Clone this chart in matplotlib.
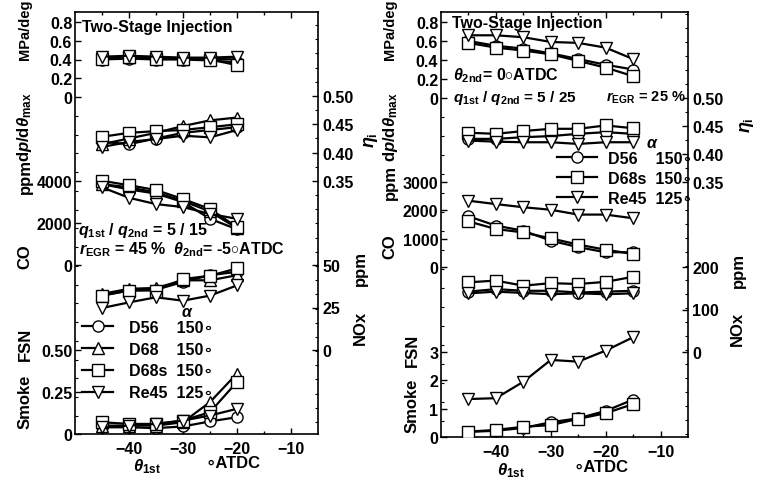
import matplotlib.pyplot as plt
from matplotlib.ticker import MultipleLocator
from matplotlib.lines import Line2D

plt.rcParams['font.family'] = ['Liberation Sans', 'DejaVu Sans']
plt.rcParams['font.weight'] = 'bold'
plt.rcParams['font.size'] = 11.5
plt.rcParams['mathtext.fontset'] = 'custom'
plt.rcParams['mathtext.rm'] = 'Liberation Sans:bold'
plt.rcParams['mathtext.it'] = 'Liberation Sans:italic:bold'
plt.rcParams['mathtext.bf'] = 'Liberation Sans:bold'

W, H = 758, 481
DEG = '\u2218'

markers = {'D56': 'o', 'D68': '^', 'D68s': 's', 'Re45': 'v'}
alpha_deg = {'D56': '150', 'D68': '150', 'D68s': '150', 'Re45': '125'}

# left panel: q1st/q2nd = 5/15, rEGR = 45 %, theta_2nd = -5 ATDC
theta_L = [-45, -40, -35, -30, -25, -20]
dp_L = {'D56': [0.40, 0.41, 0.40, 0.40, 0.39, 0.37],
        'D68': [0.42, 0.43, 0.42, 0.41, 0.41, 0.40],
        'D68s': [0.41, 0.43, 0.41, 0.41, 0.40, 0.34],
        'Re45': [0.43, 0.44, 0.43, 0.42, 0.42, 0.43]}
eta_L = {'D56': [0.419, 0.415, 0.425, 0.435, 0.440, 0.445],
         'D68': [0.415, 0.425, 0.435, 0.447, 0.457, 0.462],
         'D68s': [0.428, 0.435, 0.438, 0.440, 0.445, 0.450],
         'Re45': [0.410, 0.419, 0.424, 0.430, 0.427, 0.440]}
co_L = {'D56': [3850, 3600, 3400, 3000, 2200, 1700],
        'D68': [3850, 3700, 3450, 3050, 2550, 1750],
        'D68s': [4010, 3800, 3570, 3140, 2670, 1800],
        'Re45': [3700, 3200, 2900, 2760, 2430, 2200]}
nox_L = {'D56': [32, 35, 35.5, 40, 44, 46],
         'D68': [33, 36, 36.5, 41, 41, 44],
         'D68s': [32, 35, 35, 41.7, 43.7, 48],
         'Re45': [24.7, 28, 31, 29, 32, 38]}
smoke_L = {'D56': [0.04, 0.04, 0.035, 0.045, 0.075, 0.10],
           'D68': [0.05, 0.05, 0.05, 0.07, 0.19, 0.36],
           'D68s': [0.07, 0.06, 0.06, 0.08, 0.13, 0.31],
           'Re45': [0.04, 0.05, 0.06, 0.08, 0.11, 0.15]}

# right panel: q1st/q2nd = 5/25, rEGR = 25 %, theta_2nd = 0 ATDC
theta_R = [-45, -40, -35, -30, -25, -20, -15]
dp_R = {'D56': [0.60, 0.55, 0.52, 0.47, 0.41, 0.35, 0.30],
        'D68s': [0.58, 0.53, 0.50, 0.46, 0.39, 0.32, 0.23],
        'Re45': [0.66, 0.66, 0.64, 0.59, 0.58, 0.53, 0.41]}
eta_R = {'D56': [0.427, 0.427, 0.430, 0.432, 0.436, 0.439, 0.436],
         'D68s': [0.438, 0.436, 0.441, 0.445, 0.445, 0.451, 0.446],
         'Re45': [0.424, 0.422, 0.421, 0.421, 0.418, 0.421, 0.421]}
co_R = {'D56': [1790, 1460, 1280, 930, 700, 520, 520],
        'D68s': [1610, 1340, 1220, 1010, 790, 610, 460],
        'Re45': [2340, 2220, 2110, 2020, 1850, 1850, 1720]}
nox_R = {'D56': [142, 148, 144, 144, 140, 142, 144],
         'D68s': [164, 168, 156, 162, 160, 165, 177],
         'Re45': [138, 142, 139, 136, 138, 136, 138]}
smoke_R = {'D56': [0.18, 0.22, 0.32, 0.52, 0.66, 0.92, 1.32],
           'D68s': [0.19, 0.25, 0.36, 0.42, 0.64, 0.84, 1.16],
           'Re45': [1.34, 1.37, 1.95, 2.72, 2.66, 3.05, 3.52]}

fig = plt.figure(figsize=(W / 100, H / 100), dpi=100)


def fx(px):
    return px / W


def fy(py):
    return 1 - py / H


def lims(v0, p0, v1, p1, top, bot):
    # value range of a stacked sub-scale given two labelled ticks (pixel rows)
    k = (v1 - v0) / (p0 - p1)
    return v0 + (p0 - bot) * k, v0 + (p0 - top) * k


def quantity(ax, box, theta, data, anchors, ticks, labels, side, minor=None):
    left, right, top, bot = box
    tw = ax.twinx()
    tw.set_ylim(*lims(*anchors, top, bot))
    for s in tw.spines.values():
        s.set_visible(False)
    for name, vals in data.items():
        tw.plot(theta, vals, color='black', lw=1.6, marker=markers[name],
                ms=8, mfc='white', mec='black', mew=1.0, zorder=3)
    tw.set_yticks(ticks)
    tw.set_yticklabels(labels)
    if minor is not None:
        tw.yaxis.set_minor_locator(MultipleLocator(minor))
    if side == 'left':
        tw.yaxis.tick_left()
        tw.tick_params(axis='y', which='major', pad=2)
    else:
        tw.yaxis.tick_right()
        tw.tick_params(axis='y', which='major', pad=3)
    tw.tick_params(axis='y', which='major', direction='in', length=4,
                   width=1, labelsize=11.5)
    tw.tick_params(axis='y', which='minor', direction='in', length=2.5, width=0.8)
    return tw


def frame(box):
    left, right, top, bot = box
    ax = fig.add_axes([fx(left), fy(bot), fx(right - left), (bot - top) / H])
    ax.set_xlim(-50, -5)
    ax.set_ylim(0, 1)
    ax.set_yticks([])
    ax.set_xticks([-40, -30, -20, -10])
    ax.set_xticks([-45, -35, -25, -15], minor=True)
    ax.tick_params(axis='x', which='both', direction='in', top=True, width=1)
    ax.tick_params(axis='x', which='major', length=4, labelsize=11.5, pad=5)
    ax.tick_params(axis='x', which='minor', length=2.5)
    for s in ax.spines.values():
        s.set_linewidth(1.2)
    return ax


def vlabel(x, y, s, size=12):
    fig.text(fx(x), fy(y), s, rotation=90, ha='center', va='center',
             fontsize=size, fontweight='bold')


def legend(ax, names, x, y, hl, pad, spacing):
    handles = [Line2D([], [], color='black', lw=1.6, marker=markers[n], ms=8,
                      mfc='white', mec='black', mew=1.0) for n in names]
    labels = [n + ' ' * (4 if len(n) == 3 else 2) + alpha_deg[n] + DEG for n in names]
    ax.legend(handles, labels, loc='upper left', bbox_to_anchor=(fx(x), fy(y)),
              bbox_transform=fig.transFigure, frameon=False, borderpad=0,
              borderaxespad=0, handlelength=hl, handletextpad=pad,
              labelspacing=spacing, fontsize=11.5)


# ---------------- left panel ----------------
boxL = (75, 318, 13, 435)
axL = frame(boxL)
quantity(axL, boxL, theta_L, dp_L, (0, 98, 0.8, 23), [0, 0.2, 0.4, 0.6, 0.8],
         ['0', '0.2', '0.4', '0.6', '0.8'], 'left', minor=0.2)
quantity(axL, boxL, theta_L, eta_L, (0.50, 97, 0.35, 182), [0.35, 0.40, 0.45, 0.50],
         ['0.35', '0.40', '0.45', '0.50'], 'right', minor=0.025)
quantity(axL, boxL, theta_L, co_L, (0, 266, 4000, 182), [0, 2000, 4000],
         ['0', '2000', '4000'], 'left')
quantity(axL, boxL, theta_L, nox_L, (0, 351, 50, 266), [0, 25, 50],
         ['0', '25', '50'], 'right')
twL = quantity(axL, boxL, theta_L, smoke_L, (0, 435, 0.5, 351), [0, 0.25, 0.5],
               ['0', '0.25', '0.50'], 'left')

fig.text(fx(82), fy(32), 'Two-Stage Injection', fontsize=11.5, fontweight='bold')
fig.text(fx(78), fy(235), r'$q_{\rm 1st}$ / $q_{\rm 2nd}$ = 5 / 15', fontsize=11.5,
         fontweight='bold')
fig.text(fx(79), fy(254), r'$r_{\rm EGR}$ = 45 %  $\theta_{\rm 2nd}$= -5$\circ$ATDC',
         fontsize=11.5, fontweight='bold')
fig.text(fx(187), fy(313), r'$\alpha$', ha='center', va='center', fontsize=11.5)
legend(twL, ['D56', 'D68', 'D68s', 'Re45'], 82, 321, 1.95, 1.0, 0.42)

vlabel(25, 30, 'MPa/deg', size=10.5)
vlabel(25, 127, r'd$p$/d$\theta_{\rm max}$')
vlabel(25, 177, 'ppm')
vlabel(25, 257, 'CO')
vlabel(25, 344, 'FSN')
vlabel(25, 402, 'Smoke')
vlabel(371, 140, r'$\eta_{\rm i}$', size=13)
vlabel(360, 269, 'ppm')
vlabel(360, 328, 'NOx')
fig.text(fx(147), fy(467), r'$\theta_{\rm 1st}$', ha='center', va='center', fontsize=12)
fig.text(fx(233), fy(464), DEG + 'ATDC', ha='center', va='center', fontsize=12)

# ---------------- right panel ----------------
boxR = (441, 688, 13, 438)
axR = frame(boxR)
quantity(axR, boxR, theta_R, dp_R, (0, 99, 0.8, 23), [0, 0.2, 0.4, 0.6, 0.8],
         ['0', '0.2', '0.4', '0.6', '0.8'], 'left', minor=0.2)
quantity(axR, boxR, theta_R, eta_R, (0.50, 99, 0.35, 183), [0.35, 0.40, 0.45, 0.50],
         ['0.35', '0.40', '0.45', '0.50'], 'right', minor=0.025)
quantity(axR, boxR, theta_R, co_R, (0, 268, 3000, 183), [0, 1000, 2000, 3000],
         ['0', '1000', '2000', '3000'], 'left')
quantity(axR, boxR, theta_R, nox_R, (0, 353, 200, 268), [0, 100, 200],
         ['0', '100', '200'], 'right')
twR = quantity(axR, boxR, theta_R, smoke_R, (0, 438, 3, 353), [0, 1, 2, 3],
               ['0', '1', '2', '3'], 'left')

fig.text(fx(452), fy(28), 'Two-Stage Injection', fontsize=11.5, fontweight='bold')
fig.text(fx(453), fy(80), r'$\theta_{\rm 2nd}$= 0$\circ$ATDC', fontsize=11.5,
         fontweight='bold')
fig.text(fx(453), fy(102), r'$q_{\rm 1st}$ / $q_{\rm 2nd}$ = 5 / 25', fontsize=11,
         fontweight='bold')
fig.text(fx(686), fy(102), r'$r_{\rm EGR}$ = 25 %', fontsize=10.5, fontweight='bold',
         ha='right')
fig.text(fx(652), fy(143), r'$\alpha$', ha='center', va='center', fontsize=11.5)
legend(twR, ['D56', 'D68s', 'Re45'], 557, 152, 2.5, 0.7, 0.3)

vlabel(390, 30, 'MPa/deg', size=10.5)
vlabel(390, 127, r'd$p$/d$\theta_{\rm max}$')
vlabel(390, 183, 'ppm')
vlabel(390, 247, 'CO')
vlabel(412, 350, 'FSN')
vlabel(412, 406, 'Smoke')
vlabel(747, 125, r'$\eta_{\rm i}$', size=13)
vlabel(738, 270, 'ppm')
vlabel(737, 329, 'NOx')
fig.text(fx(511), fy(471), r'$\theta_{\rm 1st}$', ha='center', va='center', fontsize=12)
fig.text(fx(601), fy(468), DEG + 'ATDC', ha='center', va='center', fontsize=12)

fig.savefig('out.png', dpi=100)
